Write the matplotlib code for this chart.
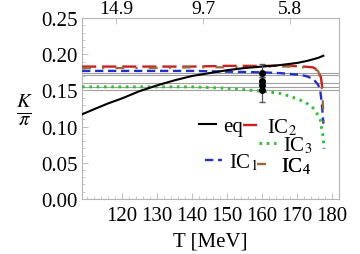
import numpy as np
import matplotlib
matplotlib.use("Agg")
import matplotlib.pyplot as plt
from matplotlib.ticker import MultipleLocator

plt.rcParams["font.family"] = ["Liberation Serif", "DejaVu Serif"]
plt.rcParams["mathtext.fontset"] = "stix"

# --- data ---
T_eq = [108.6, 112, 116, 120, 125, 130, 135, 140, 145, 150, 155, 160, 165, 170, 173, 176, 177.5]
K_eq = [0.117, 0.124, 0.132, 0.139, 0.149, 0.157, 0.164, 0.170, 0.174, 0.178, 0.181, 0.183,
        0.185, 0.188, 0.191, 0.195, 0.198]

T_ic1 = [108.6, 120, 130, 140, 150, 160, 165, 170, 172.5, 174.6, 176, 176.6, 177.0, 177.3, 177.5]
K_ic1 = [0.177, 0.177, 0.177, 0.177, 0.176, 0.175, 0.174, 0.172, 0.170, 0.166, 0.158, 0.150,
         0.135, 0.118, 0.104]

T_ic2 = [108.6, 120, 130, 140, 150, 160, 168, 172, 174.5, 176, 176.8, 177.1, 177.3]
K_ic2 = [0.183, 0.183, 0.183, 0.183, 0.184, 0.184, 0.184, 0.183, 0.182, 0.178, 0.168, 0.158, 0.148]

T_ic3 = [108.6, 120, 130, 140, 150, 155, 160, 165, 168, 172.3, 175, 176.6, 177.4, 177.7]
K_ic3 = [0.155, 0.155, 0.155, 0.155, 0.153, 0.151, 0.149, 0.146, 0.142, 0.134, 0.124, 0.110,
         0.087, 0.069]

T_ic4 = [108.6, 120, 130, 140, 150, 160, 168, 172, 174.5, 176, 176.8, 177.2, 177.5, 177.6]
K_ic4 = [0.181, 0.181, 0.181, 0.182, 0.182, 0.183, 0.183, 0.182, 0.181, 0.177, 0.165, 0.145,
         0.120, 0.100]

# experimental data point and bands
T_exp = [160, 160, 160, 160]
K_exp = [0.174, 0.163, 0.157, 0.151]
K_exp_err = [0.012, 0.006, 0.006, 0.017]
band_levels = [0.174, 0.171, 0.160, 0.155, 0.150]

# top axis
top_T = [118.3, 143.2, 168.0]
top_labels = ["14.9", "9.7", "5.8"]

FS = 15
frame_col = "#b4b4b4"

fig = plt.figure(figsize=(3.6, 2.55), dpi=100)
ax = fig.add_axes([0.228, 0.216, 0.714, 0.709])

for lvl in band_levels:
    ax.axhline(lvl, color="#a0a0a0", lw=0.8, zorder=1)

l_eq, = ax.plot(T_eq, K_eq, color="black", lw=1.5, zorder=5)
l_ic2, = ax.plot(T_ic2, K_ic2, color="#cc2020", lw=1.7, dashes=(6, 2.5), zorder=3)
l_ic4, = ax.plot(T_ic4, K_ic4, color="#9a6a3a", lw=1.6, dashes=(4, 5, 1, 5), zorder=4)
l_ic1, = ax.plot(T_ic1, K_ic1, color="#2030c8", lw=1.7, dashes=(3.5, 2), zorder=3)
l_ic3, = ax.plot(T_ic3, K_ic3, color="#30c030", lw=2.1, dashes=(0.9, 1.6), zorder=3)

ax.errorbar(T_exp, K_exp, yerr=K_exp_err, fmt="o", color="black", ms=4,
            elinewidth=0.9, capsize=2, ecolor="#555555", zorder=6)

ax.set_xlim(108.6, 182)
ax.set_ylim(0, 0.25)
ax.xaxis.set_minor_locator(MultipleLocator(2))
ax.yaxis.set_minor_locator(MultipleLocator(0.01))
ax.set_xticks([120, 130, 140, 150, 160, 170, 180])
ax.set_yticks([0, 0.05, 0.10, 0.15, 0.20, 0.25])
ax.set_yticklabels(["0.00", "0.05", "0.10", "0.15", "0.20", "0.25"])
ax.tick_params(which="both", direction="in", color=frame_col, labelsize=FS, pad=3)
ax.tick_params(which="major", length=4, width=0.6)
ax.tick_params(which="minor", length=2, width=0.5)
ax.tick_params(axis="x", which="both", top=False, pad=5)
ax.tick_params(axis="y", which="both", right=False)
for sp in ax.spines.values():
    sp.set_color(frame_col)
    sp.set_linewidth(0.8)

ax.set_xlabel("T [MeV]", fontsize=FS, labelpad=5)
ax.set_ylabel(r"$\frac{K}{\pi}$", fontsize=FS + 6, rotation=0, labelpad=12, va="center")

ax2 = ax.twiny()
ax2.set_xlim(ax.get_xlim())
ax2.set_xticks(top_T)
ax2.set_xticklabels(top_labels)
ax2.tick_params(direction="in", color=frame_col, labelsize=FS - 1, length=4, width=0.6, pad=1)
for sp in ax2.spines.values():
    sp.set_visible(False)

# legend entries, arranged like the reference
entries = [
    (l_eq, "eq", (0.455, 0.40)),
    (l_ic2, r"IC$_2$", (0.625, 0.40)),
    (l_ic3, r"IC$_3$", (0.69, 0.30)),
    (l_ic1, r"IC$_1$", (0.48, 0.205)),
    (l_ic4, r"IC$_4$", (0.68, 0.185)),
]
for h, lab, pos in entries:
    leg = ax.legend([h], [lab], loc="center left", bbox_to_anchor=pos, frameon=False,
                    fontsize=FS, handlelength=0.8, handletextpad=0.35, borderpad=0,
                    borderaxespad=0)
    ax.add_artist(leg)

fig.savefig("out.png", dpi=100)
